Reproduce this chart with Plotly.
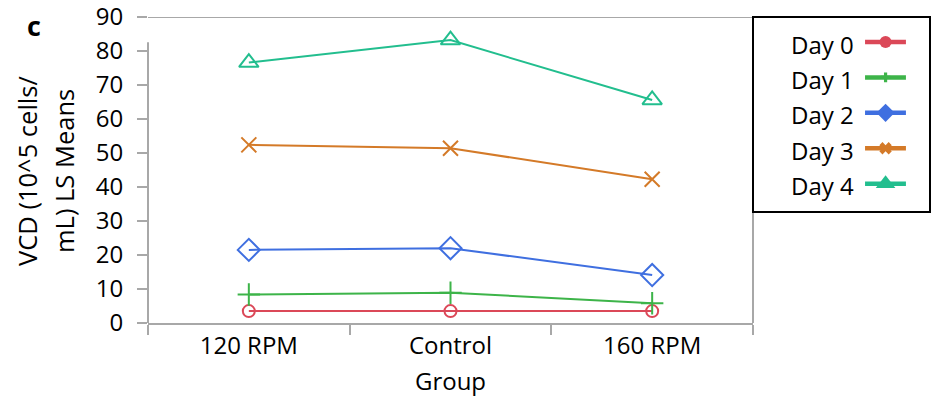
import plotly.graph_objects as go

# LS means of viable cell density by agitation group and culture day
groups = ["120 RPM", "Control", "160 RPM"]
days = ["Day 0", "Day 1", "Day 2", "Day 3", "Day 4"]
day0 = [3.5, 3.5, 3.5]
day1 = [8.4, 8.9, 5.8]
day2 = [21.5, 22.0, 14.1]
day3 = [52.4, 51.4, 42.3]
day4 = [76.6, 83.2, 65.6]
y_ticks = [0, 10, 20, 30, 40, 50, 60, 70, 80, 90]
y_title_lines = ["VCD (10^5 cells/", "mL) LS Means"]

series = [day0, day1, day2, day3, day4]
colors = ["#DB4858", "#3DB449", "#3F6FE0", "#D47A28", "#22BE8E"]
open_symbols = ["circle-open", "cross-thin-open", "diamond-open", "x-thin-open", "triangle-up-open"]
open_sizes = [12, 16, 17, 15, 17]
key_symbols = ["circle", "cross", "diamond", "x", "triangle-up"]
key_sizes = [12, 8, 14, 11, 17]

FONT = "Open Sans"
FS = 24
W, H = 932, 398
ML, MR, MT, MB = 148, 2, 17, 75
plot_w = W - ML - MR
plot_h = H - MT - MB
main_right = (753 - ML) / plot_w
key_bottom = (323 - 212) / plot_h

fig = go.Figure()

for name, vals, col, sym, sz in zip(days, series, colors, open_symbols, open_sizes):
    fig.add_trace(go.Scatter(
        x=groups, y=vals, name=name, mode="lines+markers",
        line=dict(color=col, width=2),
        marker=dict(symbol=sym, size=sz, color=col, line=dict(color=col, width=2)),
        showlegend=False, xaxis="x", yaxis="y",
    ))

# Key: text on the left, line-and-symbol swatch on the right
for i, (name, col, sym, sz) in enumerate(zip(days, colors, key_symbols, key_sizes)):
    fig.add_trace(go.Scatter(
        x=[0.633, 0.864], y=[i, i], mode="lines",
        line=dict(color=col, width=4.5), showlegend=False,
        xaxis="x2", yaxis="y2", hoverinfo="skip",
    ))
    fig.add_trace(go.Scatter(
        x=[0.749], y=[i], mode="markers",
        marker=dict(symbol=sym, size=sz, color=col, line=dict(width=0)),
        showlegend=False, xaxis="x2", yaxis="y2", hoverinfo="skip",
    ))
    fig.add_annotation(
        x=0.582, y=i, xref="x2", yref="y2", text=name, showarrow=False,
        xanchor="right", yanchor="middle", yshift=-2,
        font=dict(family=FONT, size=FS, color="black"),
    )

axis_grey = "#A8A8A8"

fig.update_layout(
    width=W, height=H,
    margin=dict(l=ML, r=MR, t=MT, b=MB, pad=0, autoexpand=False),
    paper_bgcolor="white", plot_bgcolor="white",
    font=dict(family=FONT, size=FS, color="black"),
    xaxis=dict(
        domain=[0, main_right], type="category", range=[-0.5, 2.5],
        categoryorder="array", categoryarray=groups, automargin=False,
        showline=True, linecolor=axis_grey, linewidth=2,
        ticks="outside", tickson="boundaries", ticklen=10, tickcolor=axis_grey, tickwidth=2,
        showgrid=False, zeroline=False,
        tickfont=dict(family=FONT, size=FS, color="black"),
        title=dict(text="Group", font=dict(family=FONT, size=FS, color="black"), standoff=13),
    ),
    yaxis=dict(
        range=[0, 90], tickvals=y_ticks, ticktext=[str(v) for v in y_ticks], automargin=False,
        showline=False, ticks="outside", ticklen=10, tickcolor=axis_grey, tickwidth=2,
        showgrid=False, zeroline=False, ticklabelstandoff=9, ticklabeloverflow="allow",
        tickfont=dict(family=FONT, size=FS, color="black"),
    ),
    xaxis2=dict(domain=[main_right, 1.0], range=[0, 1], visible=False, fixedrange=True,
                automargin=False),
    yaxis2=dict(domain=[key_bottom, 1.0], range=[4.80, -0.706], visible=False, fixedrange=True,
                anchor="x2", automargin=False),
)

shapes = [
    # frame: top and right borders, left axis line
    dict(type="line", xref="paper", yref="y", x0=0, x1=main_right, y0=90, y1=90,
         line=dict(color=axis_grey, width=2)),
    dict(type="line", xref="paper", yref="y", x0=main_right, x1=main_right, y0=0, y1=90,
         line=dict(color=axis_grey, width=2)),
    dict(type="line", xref="paper", yref="y", x0=0, x1=0, y0=0, y1=82.6,
         line=dict(color=axis_grey, width=2)),
    # key border
    dict(type="rect", xref="paper", yref="paper", x0=main_right, x1=(930 - ML) / plot_w,
         y0=key_bottom, y1=1.0, line=dict(color="black", width=2), fillcolor="rgba(0,0,0,0)"),
]
fig.update_layout(shapes=shapes)

# Two-line rotated y-axis title
for line_text, cx in zip(y_title_lines, [27, 64]):
    fig.add_annotation(
        xref="paper", yref="paper", x=(cx - ML) / plot_w, y=(323 - 171) / plot_h, textangle=-90,
        text=line_text, showarrow=False, xanchor="center", yanchor="middle",
        font=dict(family=FONT, size=25.5, color="black"),
    )
fig.add_annotation(
    xref="paper", yref="paper", x=(34 - ML) / plot_w, y=(323 - 25) / plot_h, text="<b>c</b>",
    showarrow=False, xanchor="center", yanchor="middle",
    font=dict(family=FONT, size=27, color="black"),
)

fig.write_html("out.html")
